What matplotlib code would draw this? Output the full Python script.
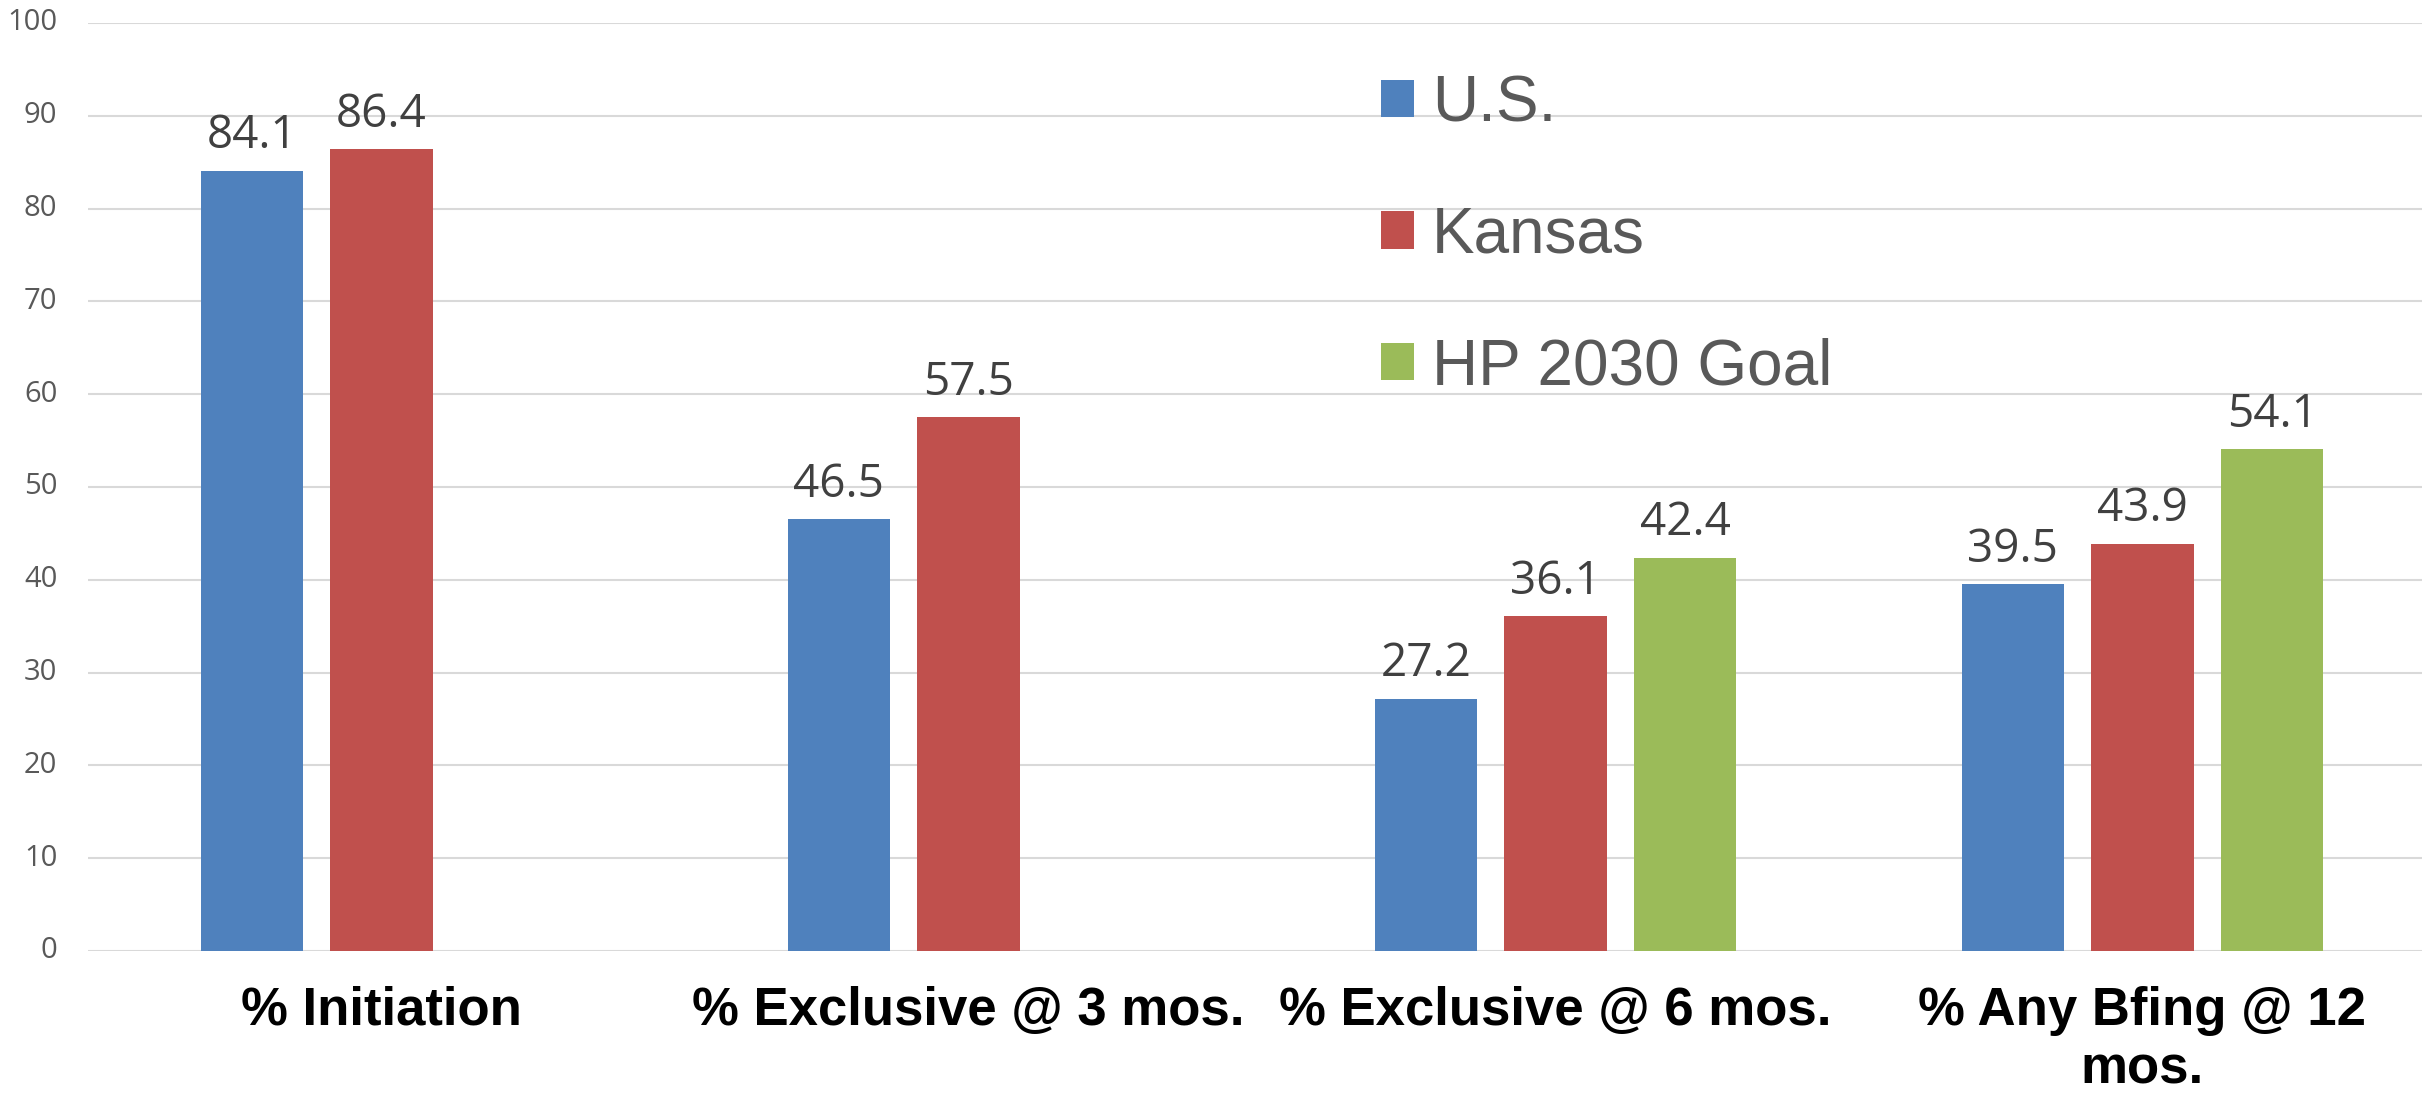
import numpy as np
import matplotlib
matplotlib.use("Agg")
import matplotlib.pyplot as plt

plt.rcParams['font.family'] = ['Open Sans', 'DejaVu Sans']

# Data
categories = ['% Initiation', '% Exclusive @ 3 mos.', '% Exclusive @ 6 mos.', '% Any Bfing @ 12\nmos.']
series = ['U.S.', 'Kansas', 'HP 2030 Goal']
us = [84.1, 46.5, 27.2, 39.5]
kansas = [86.4, 57.5, 36.1, 43.9]
goal = [np.nan, np.nan, 42.4, 54.1]
yticks = list(range(0, 101, 10))

colors = ['#4F81BD', '#C0504D', '#9BBB59']

fig = plt.figure(figsize=(24.22, 10.95), dpi=100)
W, H = 2422, 1095
ax = fig.add_axes([88 / W, 1 - 951 / H, 2348 / W, 928 / H])

x = np.arange(len(categories))
step = 0.221
width = 0.174

handles = []
for i, (vals, name) in enumerate(zip([us, kansas, goal], series)):
    pos = x + (i - 1) * step
    bars = ax.bar(pos, vals, width, color=colors[i], label=name, zorder=3)
    handles.append(bars)
    for p, v in zip(pos, vals):
        if np.isnan(v):
            continue
        ax.annotate(f'{v:.1f}', (p, v), xytext=(0, 8), textcoords='offset points',
                    ha='center', va='bottom', fontsize=33, color='#404040')

ax.set_xlim(-0.5, 3.5)
ax.set_ylim(0, 100)
ax.set_yticks(yticks)
ax.set_yticklabels([])
ax.grid(axis='y', color='#D9D9D9', linewidth=1.5, zorder=0)
for s in ax.spines.values():
    s.set_visible(False)
ax.tick_params(axis='y', length=0)

# y labels drawn as text so their size is fixed
for t in yticks:
    ax.annotate(str(t), (0, t), xycoords=('axes fraction', 'data'),
                xytext=(-22, 0), textcoords='offset points',
                ha='right', va='center', fontsize=21, color='#595959')

ax.set_xticks(x)
ax.set_xticklabels(categories, fontsize=38, fontweight='bold', family='Liberation Sans',
                   color='black', linespacing=1.22)
ax.tick_params(axis='x', length=0, pad=25)

leg = fig.legend(handles=handles, labels=series, loc='upper left',
                 bbox_to_anchor=(1381 / W, 1 - 74 / H), frameon=False,
                 prop={'family': 'Liberation Sans', 'size': 46},
                 handlelength=0.52, handleheight=0.52, handletextpad=0.28,
                 labelspacing=1.12, borderpad=0, borderaxespad=0)
for t in leg.get_texts():
    t.set_color('#595959')

fig.savefig('out.png', dpi=100)
